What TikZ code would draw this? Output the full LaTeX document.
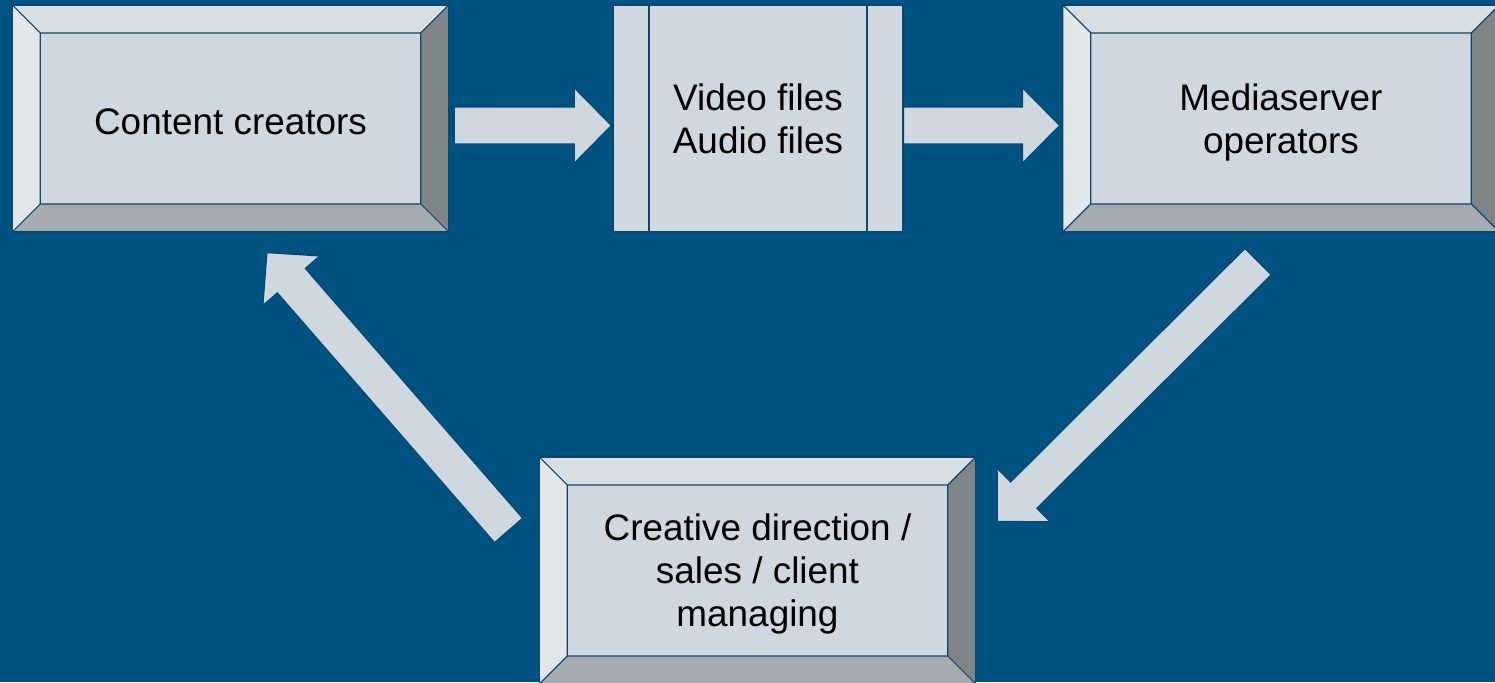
\documentclass[tikz,border=0pt]{standalone}
\usepackage{fontspec}
\setmainfont{Liberation Sans}
\usetikzlibrary{calc}

\definecolor{bg}{RGB}{0,82,128}
\definecolor{face}{RGB}{207,216,222}
\definecolor{bvtop}{RGB}{216,223,227}
\definecolor{bvleft}{RGB}{226,231,234}
\definecolor{bvright}{RGB}{127,132,135}
\definecolor{bvbot}{RGB}{165,171,174}
\definecolor{edge}{RGB}{10,70,110}

\newcommand{\ppb}{path picture bounding box}
\newcommand{\bv}{0.56}
\newcommand{\boxfont}{\fontsize{21}{24.5}\selectfont}
\newcommand{\fatarrow}[2]{%
  \coordinate (hb) at ($(#2)!0.74cm!(#1)$);
  \filldraw[arrowbody] ($(#1)!0.37cm!90:(#2)$) -- ($(hb)!0.37cm!90:(#2)$) -- ($(hb)!0.75cm!90:(#2)$) -- (#2)
    -- ($(hb)!0.75cm!-90:(#2)$) -- ($(hb)!0.37cm!-90:(#2)$) -- ($(#1)!0.37cm!-90:(#2)$) -- cycle;
}

\tikzset{
  boxtext/.style={align=center, font=\boxfont, text depth=0pt,
    execute at begin node={\rule{0pt}{0.85em}}},
  bevelbox/.style={boxtext, draw=edge, fill=face, line width=0.8pt, inner sep=0pt,
    minimum width=8.73cm, minimum height=4.54cm,
    path picture={
      \filldraw[fill=bvtop, draw=edge, line width=0.6pt] (\ppb.north west) -- (\ppb.north east)
        -- ([shift={(-\bv,-\bv)}]\ppb.north east) -- ([shift={(\bv,-\bv)}]\ppb.north west) -- cycle;
      \filldraw[fill=bvleft, draw=edge, line width=0.6pt] (\ppb.north west) -- (\ppb.south west)
        -- ([shift={(\bv,\bv)}]\ppb.south west) -- ([shift={(\bv,-\bv)}]\ppb.north west) -- cycle;
      \filldraw[fill=bvright, draw=edge, line width=0.6pt] (\ppb.north east) -- (\ppb.south east)
        -- ([shift={(-\bv,\bv)}]\ppb.south east) -- ([shift={(-\bv,-\bv)}]\ppb.north east) -- cycle;
      \filldraw[fill=bvbot, draw=edge, line width=0.6pt] (\ppb.south west) -- (\ppb.south east)
        -- ([shift={(-\bv,\bv)}]\ppb.south east) -- ([shift={(\bv,\bv)}]\ppb.south west) -- cycle;
    }},
  filebox/.style={boxtext, draw=edge, fill=face, line width=0.8pt, inner sep=0pt,
    minimum width=5.8cm, minimum height=4.54cm,
    path picture={
      \draw[edge, line width=0.6pt] ([xshift=0.72cm]\ppb.north west) -- ([xshift=0.72cm]\ppb.south west);
      \draw[edge, line width=0.6pt] ([xshift=-0.72cm]\ppb.north east) -- ([xshift=-0.72cm]\ppb.south east);
    }},
  arrowbody/.style={fill=face, draw=edge, line width=0.6pt},
}

\begin{document}
\begin{tikzpicture}
\useasboundingbox (0,0) rectangle (29.9,13.64);
\fill[bg] (0,0) rectangle (29.9,13.64);
\clip (0,0) rectangle (29.9,13.64);

\node (cc) at (4.61,11.27) [bevelbox] {Content creators};
\node (files) at (15.16,11.27) [filebox] {Video files\\Audio files};
\node (mso) at (25.62,11.27) [bevelbox] {Mediaserver\\operators};
\node (cdir) at (15.15,2.23) [bevelbox] {Creative direction /\\sales / client\\managing};

\coordinate (ccout) at ([shift={(0.1,-0.14)}]cc.east);
\coordinate (filesin) at ([shift={(-0.02,-0.14)}]files.west);
\coordinate (filesout) at ([shift={(0,-0.14)}]files.east);
\coordinate (msoin) at ([shift={(-0.05,-0.14)}]mso.west);
\coordinate (msoout) at ([shift={(-0.46,-0.58)}]mso.south);
\coordinate (cdirin) at ([shift={(0.42,-1.3)}]cdir.north east);
\coordinate (cdirout) at ([shift={(-0.6,-1.48)}]cdir.north west);
\coordinate (ccin) at ([shift={(0.73,-0.4)}]cc.south);

\fatarrow{ccout}{filesin}
\fatarrow{filesout}{msoin}
\fatarrow{msoout}{cdirin}
\fatarrow{cdirout}{ccin}
\end{tikzpicture}
\end{document}
